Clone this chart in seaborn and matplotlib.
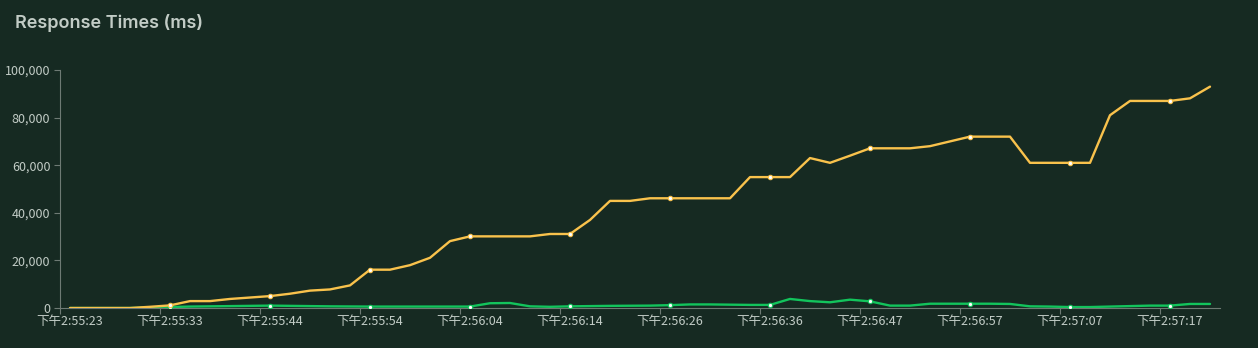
import matplotlib
matplotlib.use("Agg")
import matplotlib.pyplot as plt
import seaborn as sns
import pandas as pd
import numpy as np
from matplotlib.ticker import FuncFormatter, FixedLocator

# ---- data ----
tick_labels = ["下午2:55:23", "下午2:55:33", "下午2:55:44", "下午2:55:54",
               "下午2:56:04", "下午2:56:14", "下午2:56:26", "下午2:56:36",
               "下午2:56:47", "下午2:56:57", "下午2:57:07", "下午2:57:17"]
label_step = 5

slow_ms = [0, 0, 0, 0, 500, 1100, 2900, 2900, 3800, 4400,
           5000, 6000, 7300, 7800, 9500, 16100, 16100, 18000, 21100, 28100,
           30100, 30100, 30100, 30100, 31100, 31100, 37000, 45000, 45000, 46100,
           46100, 46100, 46100, 46100, 55000, 55000, 55000, 63000, 61000, 64000,
           67100, 67100, 67100, 68000, 70000, 72000, 72000, 72000, 61000, 61000,
           61000, 61000, 81000, 87000, 87000, 87000, 88100, 93000]

fast_ms = [0, 0, 0, 0, 200, 400, 600, 700, 800, 900,
           1000, 900, 800, 700, 650, 600, 600, 600, 600, 600,
           600, 2000, 2100, 700, 500, 700, 800, 900, 950, 1000,
           1200, 1500, 1500, 1400, 1300, 1300, 3800, 2900, 2400, 3500,
           2800, 1000, 1000, 1800, 1800, 1800, 1800, 1700, 700, 600,
           400, 400, 600, 800, 1000, 1000, 1700, 1700]

y_ticks = [0, 20000, 40000, 60000, 80000, 100000]

# ---- style ----
BG = "#162a22"
YELLOW = "#f9c24c"
GREEN = "#12c45c"
AXIS = "#6e7a74"
TEXT = "#c2ccc6"

sns.set_theme(style="dark")
plt.rcParams["font.family"] = ["Noto Sans CJK SC", "DejaVu Sans"]

n = len(slow_ms)
df = pd.DataFrame({
    "idx": np.arange(n).tolist() * 2,
    "value": slow_ms + fast_ms,
    "series": ["slow"] * n + ["fast"] * n,
})

fig = plt.figure(figsize=(12.58, 3.48), dpi=100, facecolor=BG)
ax = fig.add_axes([60 / 1258, 40 / 348, 1160 / 1258, 238 / 348])
ax.set_facecolor(BG)

palette = {"slow": YELLOW, "fast": GREEN}
for s in ["fast", "slow"]:
    sub = df[df["series"] == s]
    sns.lineplot(data=sub, x="idx", y="value", color=palette[s], linewidth=1.7,
                 ax=ax, legend=False, zorder=3 if s == "slow" else 2)
    mk = sub[sub["idx"] % label_step == 0]
    mk = mk[mk["idx"] > 0]
    sns.scatterplot(data=mk, x="idx", y="value", color="white", edgecolor=palette[s],
                    linewidth=0.8, s=10, ax=ax, legend=False, zorder=4)

ax.set_xlim(-0.5, n - 0.5)
ax.set_ylim(0, 100000)
ax.grid(False)

for side in ["top", "right"]:
    ax.spines[side].set_visible(False)
for side in ["left", "bottom"]:
    ax.spines[side].set_visible(True)
    ax.spines[side].set_color(AXIS)
    ax.spines[side].set_linewidth(0.8)

label_pos = [i * label_step for i in range(len(tick_labels))]
ax.set_xticks(label_pos)
ax.set_xticklabels(tick_labels)
ax.xaxis.set_minor_locator(FixedLocator([p - 0.5 for p in label_pos]))
ax.tick_params(axis="x", which="major", length=0, pad=5, labelsize=9, labelcolor=TEXT)
ax.tick_params(axis="x", which="minor", length=4, width=0.8, color=AXIS, bottom=True)

ax.set_yticks(y_ticks)
ax.yaxis.set_major_formatter(FuncFormatter(lambda v, p: f"{int(v):,}"))
ax.tick_params(axis="y", which="major", length=4, width=0.8, color=AXIS, left=True,
               pad=3, labelsize=9, labelcolor=TEXT)
ax.set_xlabel("")
ax.set_ylabel("")

fig.text(15 / 1258, 1 - 23 / 348, "Response Times (ms)", color=TEXT, fontsize=13,
         fontweight="semibold", ha="left", va="center", family=["Inter", "DejaVu Sans"])

fig.savefig("out.png", dpi=100, facecolor=BG)
